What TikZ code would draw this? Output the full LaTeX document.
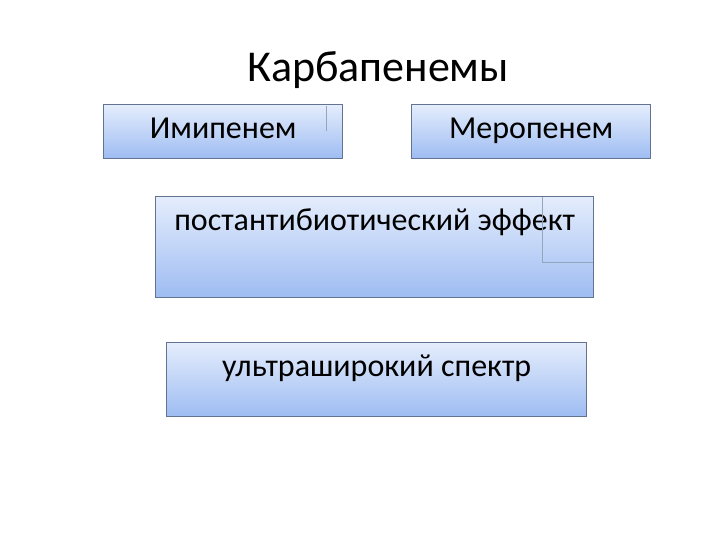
\documentclass[tikz,border=0pt]{standalone}
\usepackage{fontspec}
\setmainfont{Carlito}
\usetikzlibrary{positioning}
\definecolor{boxtop}{RGB}{228,237,252}
\definecolor{boxbot}{RGB}{158,188,242}
\definecolor{boxline}{RGB}{98,116,146}
\definecolor{ghost}{RGB}{150,165,190}

\begin{document}
\begin{tikzpicture}[
    x = 1pt, y = -1pt, % pixel grid
    box/.style = {draw = boxline, line width = 1.2pt,
      top color = boxtop, bottom color = boxbot,
      anchor = north west, inner xsep = 0pt, inner ysep = 12pt,
      text height = 22pt, font = \fontsize{32}{34}\selectfont},
    title/.style = {font = \fontsize{44}{48}\selectfont, anchor = base}
    ]
    \useasboundingbox (0,0) rectangle (720,540);

    \node[title] (carb) at (378,82) {Карбапенемы};

    \node[box, minimum width = 239pt, text depth = 8pt] (imi) at (103,104) {Имипенем};
    \node[box, minimum width = 239pt, text depth = 8pt] (mero) at (411,104) {Меропенем};
    \node[box, minimum width = 438pt, text depth = 55pt] (pae) at (155,196) {постантибиотический эффект};
    \node[box, minimum width = 420pt, text depth = 28pt] (spec) at (166,342) {ультраширокий спектр};

    % leftover frame lines
    \draw[ghost, line width = 0.8pt] (542,197) -- (542,262) -- (593,262);
    \draw[ghost, line width = 0.8pt] (326,106) -- (326,131);
\end{tikzpicture}
\end{document}
